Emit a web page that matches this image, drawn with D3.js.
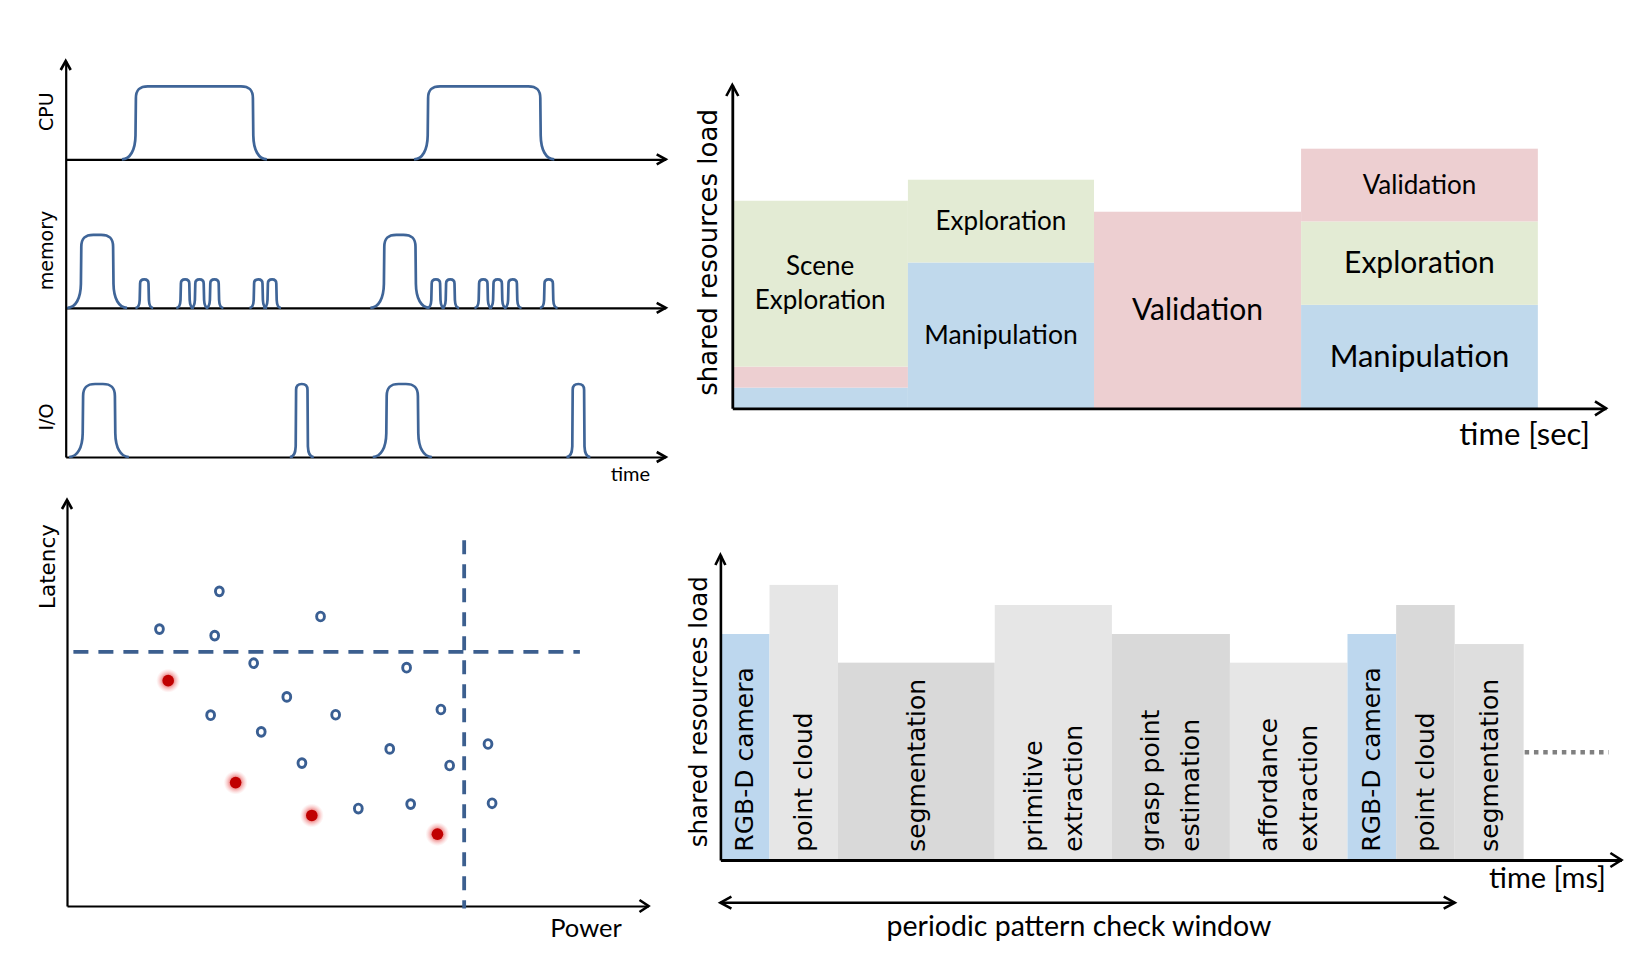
<!DOCTYPE html>
<html>
<head>
<meta charset="utf-8">
<script src="https://cdn.jsdelivr.net/npm/d3@7"></script>
<style>
body { margin: 0; background: #fff; }
svg { display: block; }
.vd { font-family: "DejaVu Sans", Verdana, sans-serif; fill: #000; }
.cb { font-family: Lato, "Open Sans", sans-serif; fill: #000; }
</style>
</head>
<body>
<div id="chart"></div>
<script>
// ---------- data ----------
// top left: resource usage pulses, [rise time, fall time, level]
var resourceNames = ["CPU", "memory", "I/O"];
var cpuPulses = [[11.7, 31.2, 1], [60.4, 79.1, 1]];
var memoryPulses = [[2.6, 7.9, 1], [12.4, 13.8, 0.39], [19.2, 20.6, 0.39], [21.6, 23.0, 0.39],
                    [24.1, 25.5, 0.39], [31.4, 32.8, 0.39], [33.7, 35.1, 0.39], [53.1, 58.3, 1],
                    [61.0, 62.4, 0.39], [63.4, 64.8, 0.39], [68.9, 70.3, 0.39], [71.3, 72.7, 0.39],
                    [73.8, 75.2, 0.39], [79.8, 81.2, 0.39]];
var ioPulses = [[2.9, 8.2, 1], [38.4, 40.3, 1], [53.5, 58.7, 1], [84.5, 86.4, 1]];

// top right: phases of the task, stacked loads
var phaseStart = [0, 20.1, 41.4, 65.1];
var phaseEnd = [20.1, 41.4, 65.1, 92.2];
var manipulationLoad = [6.4, 45.1, 0, 32.0];
var validationLoad = [6.5, 0, 60.8, 22.5];
var explorationLoad = [51.3, 25.6, 0, 25.8];
var stackOrder = [["Manipulation", "Validation", "Exploration"],
                  ["Manipulation", "Exploration"],
                  ["Validation"],
                  ["Manipulation", "Exploration", "Validation"]];
var phaseLabels = [{Exploration: ["Scene", "Exploration"]},
                   {Exploration: ["Exploration"], Manipulation: ["Manipulation"]},
                   {Validation: ["Validation"]},
                   {Validation: ["Validation"], Exploration: ["Exploration"], Manipulation: ["Manipulation"]}];

// bottom left: design points (power, latency)
var powerOpen =   [26.2, 15.9, 25.4, 43.6, 32.1, 58.4, 37.8, 24.7, 46.2, 64.3, 33.4, 55.5, 40.4, 65.8, 72.4, 50.1, 59.1, 73.1];
var latencyOpen = [77.5, 68.2, 66.6, 71.3, 59.8, 58.7, 51.5, 47.0, 47.1, 48.4, 42.9, 38.7, 35.2, 34.6, 39.9, 24.0, 25.1, 25.3];
var powerBest =   [17.4, 29.0, 42.1, 63.7];
var latencyBest = [55.5, 30.4, 22.3, 17.7];
var latencyLimit = 62.6;
var powerLimit = 68.3;

// bottom right: pipeline stages
var stageNames = [["RGB-D camera"], ["point cloud"], ["segmentation"], ["primitive", "extraction"],
                  ["grasp point", "estimation"], ["affordance", "extraction"], ["RGB-D camera"],
                  ["point cloud"], ["segmentation"]];
var stageDuration = [5.45, 7.6, 17.4, 13.0, 13.1, 13.05, 5.4, 6.5, 7.65];
var stageLoad = [74.1, 90.2, 64.7, 83.6, 74.1, 64.7, 74.1, 83.6, 70.8];
var continuationLoad = 35.3;
var continuationEnd = 98.6;

// ---------- styles ----------
var lineBlue = "#3f6598";
var layerColor = {Manipulation: "#c0d9ec", Validation: "#edcfd1", Exploration: "#e3ebd4"};
var labelSize = [{Exploration: 26}, {Exploration: 26, Manipulation: 26.5}, {Validation: 30},
                 {Validation: 26, Exploration: 30, Manipulation: 31}];
var stageFill = ["#bdd7ee", "#e6e6e6", "#d9d9d9", "#e6e6e6", "#d9d9d9", "#e6e6e6", "#bdd7ee", "#d9d9d9", "#dedede"];

var W = 1636, H = 961;
var svg = d3.select("#chart").append("svg").attr("width", W).attr("height", H);
svg.append("rect").attr("width", W).attr("height", H).attr("fill", "#fff");

function chevron(g, x, y, dir, len, half) {
    len = len || 10; half = half || 6;
    var d;
    if (dir == "right") d = "M" + (x - len) + "," + (y - half) + "L" + x + "," + y + "L" + (x - len) + "," + (y + half);
    if (dir == "left") d = "M" + (x + len) + "," + (y - half) + "L" + x + "," + y + "L" + (x + len) + "," + (y + half);
    if (dir == "up") d = "M" + (x - half) + "," + (y + len) + "L" + x + "," + y + "L" + (x + half) + "," + (y + len);
    g.append("path").attr("d", d).attr("fill", "none").attr("stroke", "#000")
        .attr("stroke-width", 2.6).attr("stroke-linejoin", "miter");
}

function bareAxis(g, axis, tx, ty, sw) {
    var a = g.append("g")
        .attr("transform", "translate(" + tx + "," + ty + ")")
        .call(axis.tickValues([]).tickSizeOuter(0));
    a.select(".domain").attr("stroke", "#000").attr("stroke-width", sw);
    return a;
}

// rounded pulse with flared feet, like a hand drawn trace
function pulsePath(p, x, y) {
    var x0 = x(p[0]), x1 = x(p[1]), yb = y(0), yt = y(p[2]);
    var w = x1 - x0;
    var f = Math.min(14, w * 0.55), c = Math.min(12, w / 2);
    var fh = Math.min(f * 1.7, (yb - yt) * 0.45);
    return "M" + (x0 - f) + "," + yb +
        "C" + (x0 - f * 0.4) + "," + yb + " " + (x0 - 0.6) + "," + (yb - fh * 0.4) + " " + (x0 - 0.4) + "," + (yb - fh) +
        "L" + x0 + "," + (yt + c) +
        "C" + x0 + "," + (yt + c * 0.3) + " " + (x0 + c * 0.3) + "," + yt + " " + (x0 + c) + "," + yt +
        "L" + (x1 - c) + "," + yt +
        "C" + (x1 - c * 0.3) + "," + yt + " " + x1 + "," + (yt + c * 0.3) + " " + x1 + "," + (yt + c) +
        "L" + (x1 + 0.4) + "," + (yb - fh) +
        "C" + (x1 + 0.6) + "," + (yb - fh * 0.4) + " " + (x1 + f * 0.4) + "," + yb + " " + (x1 + f) + "," + yb;
}

// ---------- top left: resource traces ----------
(function () {
    var g = svg.append("g");
    var x = d3.scaleLinear().domain([0, 100]).range([65.7, 665.7]);
    var laneBase = [159.3, 307.8, 457];
    var labelY = [111.7, 250.5, 417];
    var lanes = [cpuPulses, memoryPulses, ioPulses];

    var yAll = d3.scaleLinear().domain([0, 1]).range([457, 61]);
    bareAxis(g, d3.axisLeft(yAll), 65.7, 0, 2.2);
    chevron(g, 65.7, 61, "up", 9, 5);

    lanes.forEach(function (pulses, i) {
        var y = d3.scaleLinear().domain([0, 1]).range([laneBase[i], laneBase[i] - 73]);
        bareAxis(g, d3.axisBottom(x), 0, laneBase[i], 2.2);
        chevron(g, x.range()[1], laneBase[i], "right", 9, 5);
        g.selectAll(null).data(pulses).enter().append("path")
            .attr("d", function (p) { return pulsePath(p, x, y); })
            .attr("fill", "none")
            .attr("stroke", lineBlue)
            .attr("stroke-width", 2.7);
        g.append("text").attr("class", "vd")
            .attr("transform", "translate(45.5," + labelY[i] + ") rotate(-90)")
            .attr("text-anchor", "middle")
            .attr("dominant-baseline", "central")
            .attr("font-size", 19)
            .text(resourceNames[i]);
    });

    g.append("text").attr("class", "cb")
        .attr("x", 650).attr("y", 481)
        .attr("text-anchor", "end")
        .attr("font-size", 20)
        .text("time");
})();

// ---------- top right: phase loads ----------
(function () {
    var g = svg.append("g");
    var x = d3.scaleLinear().domain([0, 100]).range([732.3, 1606]);
    var y = d3.scaleLinear().domain([0, 100]).range([408.3, 85]);
    var loads = {Manipulation: manipulationLoad, Validation: validationLoad, Exploration: explorationLoad};

    phaseStart.forEach(function (s, i) {
        var base = 0;
        stackOrder[i].forEach(function (name) {
            var v = loads[name][i];
            if (!v) return;
            g.append("rect")
                .attr("x", x(s)).attr("width", x(phaseEnd[i]) - x(s))
                .attr("y", y(base + v)).attr("height", y(base) - y(base + v))
                .attr("fill", layerColor[name]);
            var lines = phaseLabels[i][name];
            if (lines) {
                var fs = labelSize[i][name];
                var cy = y(base + v / 2);
                var t = g.append("text").attr("class", "cb")
                    .attr("text-anchor", "middle")
                    .attr("font-size", fs);
                lines.forEach(function (ln, k) {
                    t.append("tspan")
                        .attr("x", (x(s) + x(phaseEnd[i])) / 2)
                        .attr("y", cy + (k - (lines.length - 1) / 2) * 34 + fs * 0.33)
                        .text(ln);
                });
            }
            base += v;
        });
    });

    bareAxis(g, d3.axisBottom(x), 0, y(0), 2.8);
    chevron(g, x.range()[1], y(0), "right", 11, 7);
    bareAxis(g, d3.axisLeft(y), x(0), 0, 2.8);
    chevron(g, x(0), y.range()[1], "up", 11, 6);

    g.append("text").attr("class", "vd")
        .attr("transform", "translate(708,252.4) rotate(-90)")
        .attr("text-anchor", "middle")
        .attr("dominant-baseline", "central")
        .attr("font-size", 26)
        .text("shared resources load");

    g.append("text").attr("class", "cb")
        .attr("x", 1590).attr("y", 445)
        .attr("text-anchor", "end")
        .attr("font-size", 31)
        .text("time [sec]");
})();

// ---------- bottom left: power / latency ----------
(function () {
    var g = svg.append("g");
    var x = d3.scaleLinear().domain([0, 100]).range([67, 648.5]);
    var y = d3.scaleLinear().domain([0, 100]).range([906, 500]);

    var defs = svg.append("defs");
    var grad = defs.append("radialGradient").attr("id", "halo");
    grad.append("stop").attr("offset", "40%").attr("stop-color", "#e03c3c").attr("stop-opacity", 0.7);
    grad.append("stop").attr("offset", "70%").attr("stop-color", "#ee7070").attr("stop-opacity", 0.35);
    grad.append("stop").attr("offset", "100%").attr("stop-color", "#f4a0a0").attr("stop-opacity", 0);

    bareAxis(g, d3.axisBottom(x), 0, y(0), 2.2);
    chevron(g, x.range()[1], y(0), "right", 9, 6);
    bareAxis(g, d3.axisLeft(y), x(0), 0, 2.2);
    chevron(g, x(0), y.range()[1], "up", 9, 5);

    g.append("line")
        .attr("x1", x(1.1)).attr("x2", x(88.2))
        .attr("y1", y(latencyLimit)).attr("y2", y(latencyLimit))
        .attr("stroke", "#3c5f8f").attr("stroke-width", 3.8)
        .attr("stroke-dasharray", "15,10");
    g.append("line")
        .attr("x1", x(powerLimit)).attr("x2", x(powerLimit))
        .attr("y1", y(90.1)).attr("y2", y(-0.6))
        .attr("stroke", "#3c5f8f").attr("stroke-width", 3.8)
        .attr("stroke-dasharray", "14,10");

    g.selectAll(null).data(powerOpen).enter().append("ellipse")
        .attr("cx", function (d) { return x(d); })
        .attr("cy", function (d, i) { return y(latencyOpen[i]); })
        .attr("rx", 3.9).attr("ry", 4.4)
        .attr("fill", "#fff").attr("stroke", "#3a5f93").attr("stroke-width", 2.9);

    g.selectAll(null).data(powerBest).enter().append("circle")
        .attr("cx", function (d) { return x(d); })
        .attr("cy", function (d, i) { return y(latencyBest[i]); })
        .attr("r", 12).attr("fill", "url(#halo)");
    g.selectAll(null).data(powerBest).enter().append("circle")
        .attr("cx", function (d) { return x(d); })
        .attr("cy", function (d, i) { return y(latencyBest[i]); })
        .attr("r", 5.8).attr("fill", "#c00000");

    g.append("text").attr("class", "vd")
        .attr("transform", "translate(47.5,566.5) rotate(-90)")
        .attr("text-anchor", "middle")
        .attr("dominant-baseline", "central")
        .attr("font-size", 21.5)
        .text("Latency");

    g.append("text").attr("class", "cb")
        .attr("x", 586).attr("y", 936.5)
        .attr("text-anchor", "middle")
        .attr("font-size", 25.5)
        .text("Power");
})();

// ---------- bottom right: pipeline stages ----------
(function () {
    var g = svg.append("g");
    var x = d3.scaleLinear().domain([0, 100]).range([720.4, 1621.4]);
    var y = d3.scaleLinear().domain([0, 100]).range([860, 555]);
    var ends = Array.from(d3.cumsum(stageDuration));
    var starts = [0].concat(ends.slice(0, -1));

    g.selectAll(null).data(stageLoad).enter().append("rect")
        .attr("x", function (d, i) { return x(starts[i]); })
        .attr("width", function (d, i) { return x(ends[i]) - x(starts[i]); })
        .attr("y", function (d) { return y(d); })
        .attr("height", function (d) { return y(0) - y(d); })
        .attr("fill", function (d, i) { return stageFill[i]; });

    stageNames.forEach(function (lines, i) {
        var cx = (x(starts[i]) + x(ends[i])) / 2;
        lines.forEach(function (ln, k) {
            var lx = cx + (k - (lines.length - 1) / 2) * 40;
            g.append("text").attr("class", "vd")
                .attr("transform", "translate(" + lx + "," + (y(0) - 8.3) + ") rotate(-90)")
                .attr("dominant-baseline", "central")
                .attr("font-size", 25)
                .text(ln);
        });
    });

    g.append("line")
        .attr("x1", x(ends[ends.length - 1]) + 1).attr("x2", x(continuationEnd))
        .attr("y1", y(continuationLoad)).attr("y2", y(continuationLoad))
        .attr("stroke", "#808080").attr("stroke-width", 4.5)
        .attr("stroke-dasharray", "4.5,4.8");

    bareAxis(g, d3.axisBottom(x), 0, y(0), 2.8);
    chevron(g, x.range()[1], y(0), "right", 11, 7);
    bareAxis(g, d3.axisLeft(y), x(0), 0, 2.6);
    chevron(g, x(0), y.range()[1], "up", 10, 5);

    // periodic check window spans one full period of the pipeline
    var winEnd = x(ends[7]);
    g.append("line")
        .attr("x1", x(0)).attr("x2", winEnd)
        .attr("y1", 902.7).attr("y2", 902.7)
        .attr("stroke", "#000").attr("stroke-width", 2.6);
    chevron(g, x(0), 902.7, "left", 11, 6);
    chevron(g, winEnd, 902.7, "right", 11, 6);

    g.append("text").attr("class", "vd")
        .attr("transform", "translate(698,711.7) rotate(-90)")
        .attr("text-anchor", "middle")
        .attr("dominant-baseline", "central")
        .attr("font-size", 24.6)
        .text("shared resources load");

    g.append("text").attr("class", "cb")
        .attr("x", 1606).attr("y", 888)
        .attr("text-anchor", "end")
        .attr("font-size", 29)
        .text("time [ms]");

    g.append("text").attr("class", "cb")
        .attr("x", 1079).attr("y", 936)
        .attr("text-anchor", "middle")
        .attr("font-size", 28.5)
        .text("periodic pattern check window");
})();
</script>
</body>
</html>
